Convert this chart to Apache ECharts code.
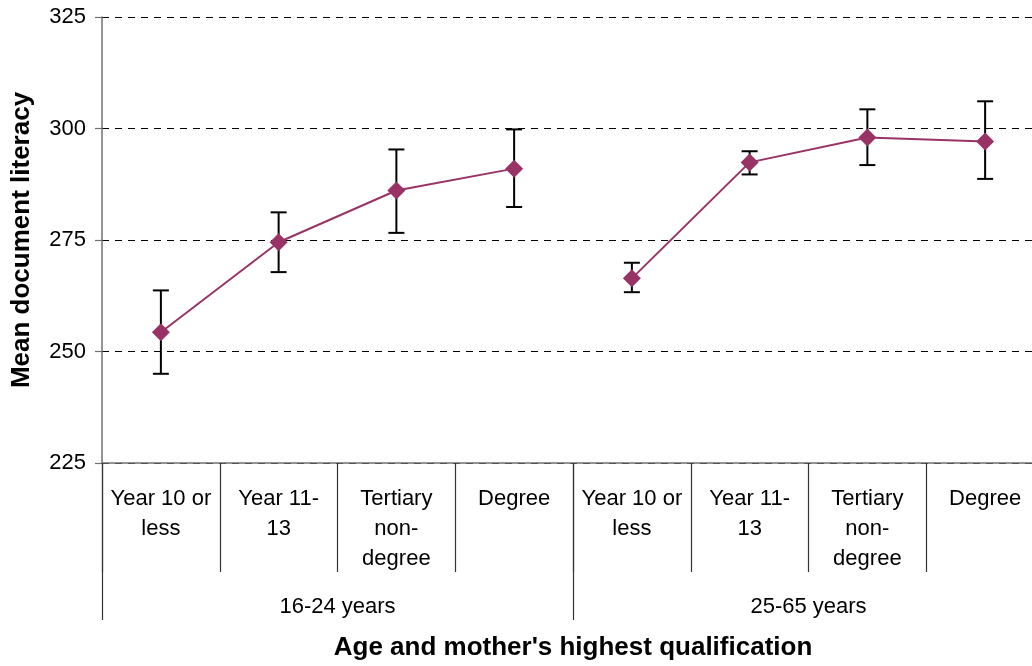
<!DOCTYPE html>
<html>
<head>
<meta charset="utf-8">
<script src="https://cdn.jsdelivr.net/npm/echarts@6/dist/echarts.min.js"></script>
<style>
html,body{margin:0;padding:0;background:#fff;overflow:hidden;width:1032px;height:666px;}
#c{width:1044px;height:666px;}
</style>
</head>
<body>
<div id="c"></div>
<script>
// ---- Data ----
var categories = ["Year 10 or\nless", "Year 11-\n13", "Tertiary\nnon-\ndegree", "Degree",
                  "Year 10 or\nless", "Year 11-\n13", "Tertiary\nnon-\ndegree", "Degree"];
var groups = ["16-24 years", "25-65 years"];
var means16_24 = [254.3, 274.5, 286.1, 291.0];
var means25_65 = [266.4, 292.4, 298.0, 297.1];
var errHigh = [263.7, 281.2, 295.3, 299.8, 269.9, 294.9, 304.3, 306.1];
var errLow  = [245.0, 267.8, 276.6, 282.4, 263.3, 289.7, 291.8, 288.7];
var yTicks = {min: 225, max: 325, interval: 25};

var seriesA = means16_24.concat(['-', '-', '-', '-']);
var seriesB = ['-', '-', '-', '-'].concat(means25_65);
var errData = categories.map(function (c, i) { return [i, errLow[i], errHigh[i]]; });

var FONT = '"Liberation Sans", Arial, sans-serif';
var chart = echarts.init(document.getElementById('c'));
chart.setOption({
  backgroundColor: '#ffffff',
  animation: false,
  grid: {left: 102, right: 0, top: 17, bottom: 203, containLabel: false, outerBoundsMode: 'none'},
  xAxis: [{
    type: 'category',
    data: categories,
    position: 'bottom',
    boundaryGap: true,
    axisLine: {show: true, lineStyle: {color: '#707070', width: 1.5}},
    axisTick: {show: true, interval: 0, length: 109, lineStyle: {color: '#333', width: 1.2}},
    axisLabel: {interval: 0, margin: 21, fontFamily: FONT, fontSize: 22, color: '#000', lineHeight: 30, align: 'center'},
    splitLine: {show: false}
  }, {
    type: 'category',
    data: groups,
    position: 'bottom',
    boundaryGap: true,
    axisLine: {show: false},
    axisTick: {show: true, interval: 0, length: 157, lineStyle: {color: '#333', width: 1.2}},
    axisLabel: {interval: 0, margin: 129, fontFamily: FONT, fontSize: 22, color: '#000', lineHeight: 30},
    name: "Age and mother's highest qualification",
    nameLocation: 'middle',
    nameGap: 172,
    nameTextStyle: {fontFamily: FONT, fontSize: 26, fontWeight: 'bold', color: '#000'}
  }],
  yAxis: {
    type: 'value',
    min: yTicks.min, max: yTicks.max, interval: yTicks.interval,
    axisLine: {show: true, lineStyle: {color: '#707070', width: 1.5}},
    axisTick: {show: true, length: 7, lineStyle: {color: '#707070', width: 1.2}},
    axisLabel: {margin: 16, fontFamily: FONT, fontSize: 22, color: '#000'},
    splitLine: {show: true, lineStyle: {color: '#000', type: [7, 6], width: 1}},
    name: 'Mean document literacy',
    nameLocation: 'middle',
    nameGap: 67,
    nameRotate: 90,
    nameTextStyle: {fontFamily: FONT, fontSize: 26, fontWeight: 'bold', color: '#000'}
  },
  series: [{
    type: 'custom',
    z: 2,
    data: errData,
    renderItem: function (params, api) {
      var x = api.value(0);
      var lo = api.coord([x, api.value(1)]);
      var hi = api.coord([x, api.value(2)]);
      var hw = 8;
      var st = {stroke: '#000', lineWidth: 2};
      return {type: 'group', children: [
        {type: 'line', shape: {x1: lo[0], y1: lo[1], x2: hi[0], y2: hi[1]}, style: st},
        {type: 'line', shape: {x1: lo[0] - hw, y1: lo[1], x2: lo[0] + hw, y2: lo[1]}, style: st},
        {type: 'line', shape: {x1: hi[0] - hw, y1: hi[1], x2: hi[0] + hw, y2: hi[1]}, style: st}
      ]};
    }
  }, {
    type: 'line', z: 5, data: seriesA, symbol: 'diamond', symbolSize: 18,
    lineStyle: {color: '#993366', width: 2}, itemStyle: {color: '#993366'}, connectNulls: false
  }, {
    type: 'line', z: 5, data: seriesB, symbol: 'diamond', symbolSize: 18,
    lineStyle: {color: '#993366', width: 2}, itemStyle: {color: '#993366'}, connectNulls: false
  }]
});
</script>
</body>
</html>
